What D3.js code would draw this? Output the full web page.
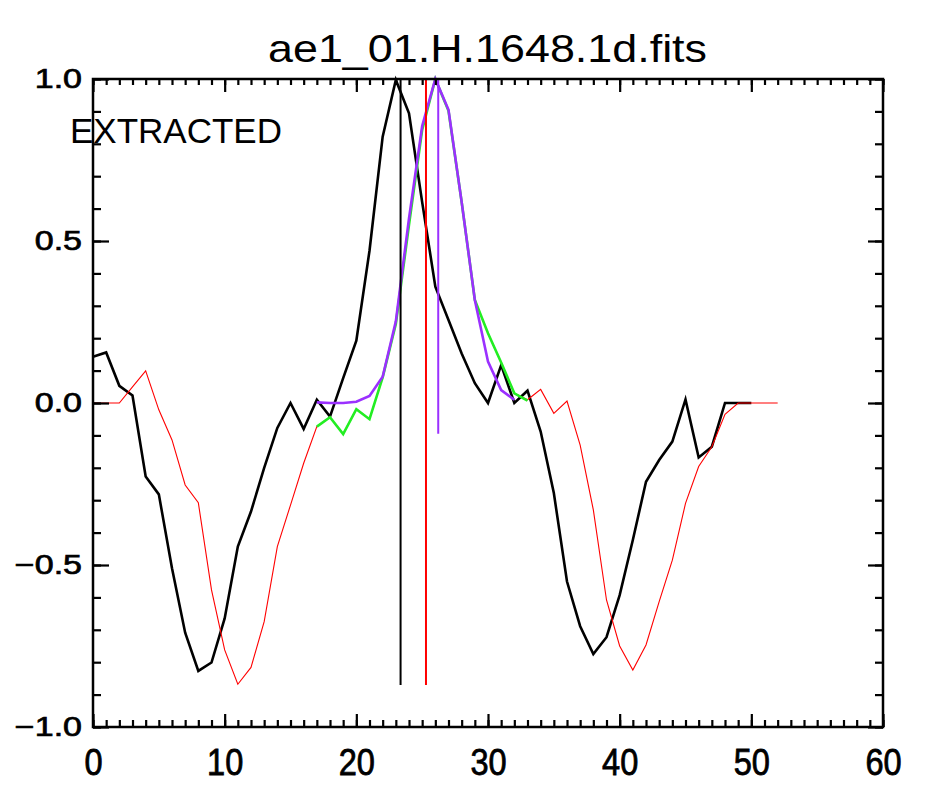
<!DOCTYPE html>
<html>
<head>
<meta charset="utf-8">
<script src="https://cdn.jsdelivr.net/npm/d3@7"></script>
<style>
  body { margin: 0; background: #fff; }
  svg { display: block; font-family: 'Liberation Sans', Arial, sans-serif; }
</style>
</head>
<body>
<svg id="chart" width="930" height="801"></svg>
<script>
// data
var title = 'ae1_01.H.1648.1d.fits'
var label = 'EXTRACTED'

var blackX = d3.range(0, 51)
var blackY = [0.143, 0.156, 0.053, 0.023, -0.227, -0.282, -0.51, -0.709, -0.827, -0.801,
  -0.665, -0.443, -0.335, -0.2, -0.077, 0.0, -0.08, 0.01, -0.042, 0.077,
  0.192, 0.47, 0.822, 0.997, 0.894, 0.62, 0.359, 0.256, 0.153, 0.061,
  0.0, 0.117, 0.0, 0.038, -0.088, -0.278, -0.551, -0.689, -0.775, -0.723,
  -0.593, -0.423, -0.243, -0.176, -0.119, 0.011, -0.168, -0.135, 0.0, 0.0, 0.0]

var redX = d3.range(0, 53)
var redY = [0, 0, 0, 0.05, 0.099, -0.021, -0.114, -0.253, -0.308, -0.577,
  -0.762, -0.868, -0.816, -0.675, -0.443, -0.315, -0.186, -0.073, -0.044, -0.096,
  -0.019, -0.05, 0.079, 0.244, 0.55, 0.843, 1.0, 0.902, 0.62, 0.318,
  0.215, 0.125, 0.03, 0.01, 0.042, -0.032, 0.006, -0.13, -0.33, -0.608,
  -0.75, -0.824, -0.747, -0.613, -0.485, -0.31, -0.196, -0.135, -0.035, 0, 0, 0, 0]

var greenX = d3.range(17, 34)
var greenY = [-0.073, -0.044, -0.096, -0.019, -0.05, 0.079, 0.244, 0.55, 0.843, 1.0,
  0.902, 0.62, 0.318, 0.215, 0.125, 0.03, 0.007]

var purpleX = d3.range(17, 33)
var purpleY = [0.002, 0, 0, 0.004, 0.022, 0.081, 0.252, 0.57, 0.855, 1.0,
  0.905, 0.62, 0.318, 0.128, 0.04, 0.01]

// vertical marker lines
var markers = [
  { x: 23.36, lo: -0.87, hi: 1.0, color: '#000' },
  { x: 25.29, lo: -0.87, hi: 1.0, color: '#ff0000' },
  { x: 26.22, lo: -0.095, hi: 1.0, color: '#9b30ff' }
]

var xMajor = [0, 10, 20, 30, 40, 50, 60]
var xMinor = d3.range(0, 61)
var yMajor = [-1.0, -0.5, 0.0, 0.5, 1.0]
var yMinor = d3.range(-10, 11).map(function (d) { return d / 10 })

var box = { left: 93, right: 883, top: 79, bottom: 727 }
var svg = d3.select('#chart')

var x = d3.scaleLinear().domain([0, 60]).range([box.left, box.right])
var y = d3.scaleLinear().domain([-1, 1]).range([box.bottom, box.top])

function zip (xs, ys) {
  return xs.map(function (d, i) { return [d, ys[i]] })
}

var line = d3.line()
    .x(function (d) { return x(d[0]) })
    .y(function (d) { return y(d[1]) })

// curves
svg.append('path').datum(zip(blackX, blackY))
    .attr('d', line).attr('fill', 'none').attr('stroke', '#000').attr('stroke-width', 2.6)
svg.append('path').datum(zip(redX, redY))
    .attr('d', line).attr('fill', 'none').attr('stroke', '#ff0000').attr('stroke-width', 1.1)
svg.append('path').datum(zip(greenX, greenY))
    .attr('d', line).attr('fill', 'none').attr('stroke', '#22ee22').attr('stroke-width', 2.6)
svg.append('path').datum(zip(purpleX, purpleY))
    .attr('d', line).attr('fill', 'none').attr('stroke', '#9b30ff').attr('stroke-width', 2.6)

svg.selectAll('line.marker').data(markers).enter().append('line')
    .attr('class', 'marker')
    .attr('x1', function (d) { return x(d.x) })
    .attr('x2', function (d) { return x(d.x) })
    .attr('y1', function (d) { return y(d.lo) })
    .attr('y2', function (d) { return y(d.hi) })
    .attr('stroke', function (d) { return d.color })
    .attr('stroke-width', 2)

// frame + ticks (all pointing inward)
function ticks (axis, pos, vals, size, fmt, pad) {
  var g = svg.append('g').attr('transform', pos)
  g.call(axis.tickValues(vals).tickSizeInner(-size).tickSizeOuter(0)
      .tickPadding(pad || 0).tickFormat(fmt || ''))
  g.select('.domain').remove()
  g.selectAll('line').attr('stroke', '#000').attr('stroke-width', 2.2)
  return g
}

ticks(d3.axisBottom(x), 'translate(0,' + box.bottom + ')', xMinor, 7)
ticks(d3.axisTop(x), 'translate(0,' + box.top + ')', xMinor, 6)
ticks(d3.axisTop(x), 'translate(0,' + box.top + ')', xMajor, 13)
ticks(d3.axisLeft(y), 'translate(' + box.left + ',0)', yMinor, 8)
ticks(d3.axisRight(y), 'translate(' + box.right + ',0)', yMinor, 8)
ticks(d3.axisRight(y), 'translate(' + box.right + ',0)', yMajor, 15)

var xg = ticks(d3.axisBottom(x), 'translate(0,' + box.bottom + ')', xMajor, 13, d3.format('d'), 22)
xg.selectAll('text')
    .attr('fill', '#000').attr('stroke', '#000').attr('stroke-width', 0.8)
    .attr('font-size', 37).attr('font-family', 'Liberation Sans')
    .attr('transform', 'scale(0.88,1)')
    .attr('x', 0)

var yg = ticks(d3.axisLeft(y), 'translate(' + box.left + ',0)', yMajor, 16, d3.format('.1f'), 0)
yg.selectAll('text')
    .attr('fill', '#000').attr('stroke', '#000').attr('stroke-width', 0.7)
    .attr('font-size', 27).attr('font-family', 'Liberation Sans')
    .attr('x', -11 / 1.26)
    .attr('transform', 'scale(1.26,1)')

svg.append('rect')
    .attr('x', box.left).attr('y', box.top)
    .attr('width', box.right - box.left).attr('height', box.bottom - box.top)
    .attr('fill', 'none').attr('stroke', '#000').attr('stroke-width', 2.5)

svg.append('text')
    .attr('x', 268).attr('y', 62)
    .attr('font-size', 39)
    .attr('textLength', 439).attr('lengthAdjust', 'spacingAndGlyphs')
    .text(title)

svg.append('text')
    .attr('x', 70).attr('y', 143)
    .attr('font-size', 35)
    .text(label)
</script>
</body>
</html>
